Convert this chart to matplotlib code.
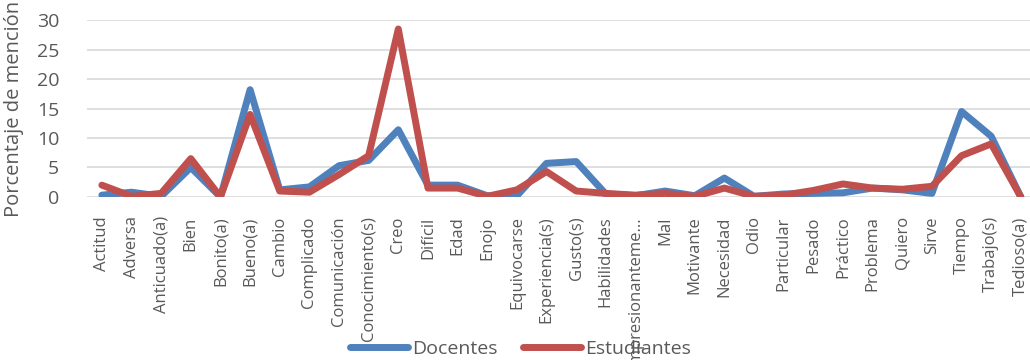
import matplotlib
matplotlib.use('Agg')
import matplotlib.pyplot as plt

categories = ['Actitud', 'Adversa', 'Anticuado(a)', 'Bien', 'Bonito(a)', 'Bueno(a)', 'Cambio',
              'Complicado', 'Comunicación', 'Conocimiento(s)', 'Creo', 'Difícil', 'Edad', 'Enojo',
              'Equivocarse', 'Experiencia(s)', 'Gusto(s)', 'Habilidades', 'Impresionanteme...',
              'Mal', 'Motivante', 'Necesidad', 'Odio', 'Particular', 'Pesado', 'Práctico',
              'Problema', 'Quiero', 'Sirve', 'Tiempo', 'Trabajo(s)', 'Tedioso(a)']
docentes = [0.3, 0.8, 0.1, 5.0, 0.0, 18.2, 1.2, 1.7, 5.3, 6.2, 11.4, 2.0, 2.0, 0.2,
            0.2, 5.7, 6.0, 0.5, 0.2, 1.0, 0.2, 3.2, 0.1, 0.5, 0.6, 0.7,
            1.5, 1.2, 0.6, 14.5, 10.3, 0.0]
estudiantes = [2.0, 0.1, 0.6, 6.5, 0.0, 14.0, 1.0, 0.8, 3.8, 7.0, 28.5, 1.5, 1.5, 0.1,
               1.2, 4.3, 1.0, 0.6, 0.3, 0.6, 0.1, 1.5, 0.1, 0.3, 1.1, 2.2,
               1.5, 1.3, 1.8, 7.0, 9.0, 0.0]
yticks = [0, 5, 10, 15, 20, 25, 30]

plt.rcParams['font.family'] = ['Open Sans', 'DejaVu Sans']
txt = '#595959'

fig = plt.figure(figsize=(10.3, 3.6), dpi=100)
ax = fig.add_axes([0.0845, 0.453, 0.921, 0.491])
x = list(range(len(categories)))
l1, = ax.plot(x, docentes, color='#4F81BD', lw=5, solid_joinstyle='round',
              solid_capstyle='round', label='Docentes', zorder=3)
l2, = ax.plot(x, estudiantes, color='#C0504D', lw=5, solid_joinstyle='round',
              solid_capstyle='round', label='Estudiantes', zorder=4)

ax.set_xlim(-0.5, len(categories) - 0.5)
ax.set_ylim(0, 30)
ax.set_yticks(yticks)
ax.set_xticks(x)
ax.set_xticklabels(categories, rotation=90, fontsize=12, color=txt)
ax.tick_params(axis='y', length=0, pad=20, labelsize=14, labelcolor=txt)
ax.tick_params(axis='x', length=0, pad=14)
ax.grid(axis='y', color='#D9D9D9', lw=1.2, zorder=0)
ax.set_axisbelow(True)
for s in ax.spines.values():
    s.set_visible(False)
ax.set_ylabel('Porcentaje de mención', fontsize=14.5, color=txt, labelpad=9)

fig.legend(handles=[l1, l2], loc='center', bbox_to_anchor=(0.505, 0.03), ncol=2, frameon=False,
           fontsize=14, handlelength=3.0, handletextpad=0.2, columnspacing=1.3, labelcolor=txt)

fig.savefig('out.png', dpi=100)
